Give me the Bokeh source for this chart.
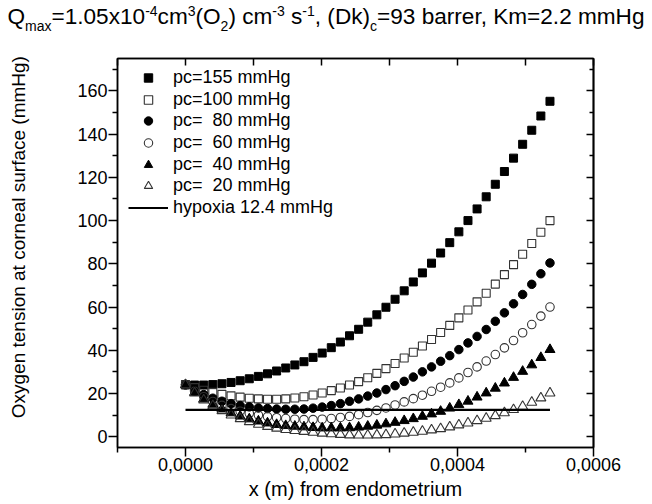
from bokeh.plotting import figure
from bokeh.models import (LinearAxis, Range1d, Legend, LegendItem, Div,
                          CustomJSTickFormatter, FixedTicker)
from bokeh.layouts import column
from bokeh.embed import file_html
from bokeh.resources import INLINE

# ---------------- data ----------------
x_step = 1.34e-5            # spacing of the computed points (m)
n_pts = 41
x_pos = [round(i * x_step, 9) for i in range(n_pts)]

pc_155 = [24.1, 23.9, 23.9, 24.1, 24.5, 25.1, 25.9, 26.8, 27.9, 29.1,
          30.4, 31.8, 33.2, 34.7, 36.7, 38.7, 41.2, 43.8, 46.7, 49.7,
          53.0, 56.4, 59.9, 63.6, 67.5, 71.6, 75.8, 80.3, 85.0, 89.8,
          94.8, 100.0, 105.4, 111.0, 116.8, 122.7, 128.9, 135.3, 141.8, 148.4,
          155.2]
pc_100 = [24.0, 22.7, 21.5, 20.5, 19.6, 18.9, 18.3, 17.8, 17.5, 17.3,
          17.3, 17.5, 17.9, 18.5, 19.3, 20.2, 21.3, 22.5, 23.9, 25.5,
          27.3, 29.3, 31.5, 33.9, 36.4, 39.1, 42.0, 45.0, 48.2, 51.5,
          55.0, 58.6, 62.4, 66.4, 70.6, 75.0, 79.6, 84.4, 89.4, 94.6,
          100.0]
pc_80 = [24.0, 21.5, 19.5, 17.8, 16.4, 15.3, 14.4, 13.8, 13.3, 13.0,
         12.8, 12.7, 12.7, 12.8, 13.2, 13.7, 14.4, 15.3, 16.4, 17.5,
         18.8, 20.2, 21.8, 23.6, 25.6, 27.6, 30.0, 32.3, 34.9, 37.5,
         40.3, 43.4, 46.4, 49.6, 53.4, 57.3, 61.5, 65.8, 70.5, 75.4,
         80.4]
pc_60 = [24.0, 21.0, 18.5, 16.3, 14.5, 13.0, 11.8, 10.8, 10.0, 9.3,
         8.8, 8.4, 8.1, 7.9, 7.9, 8.1, 8.4, 8.9, 9.4, 10.2,
         11.2, 12.2, 13.3, 14.7, 16.1, 17.6, 19.2, 21.0, 22.9, 24.9,
         27.2, 29.7, 32.3, 35.0, 38.0, 41.1, 44.5, 48.1, 51.9, 55.8,
         60.0]
pc_40 = [24.0, 20.5, 17.5, 15.0, 12.8, 11.0, 9.5, 8.2, 7.2, 6.3,
         5.6, 5.1, 4.8, 4.5, 4.2, 4.0, 4.0, 4.0, 4.1, 4.4,
         4.8, 5.3, 5.9, 6.6, 7.4, 8.3, 9.4, 10.5, 11.7, 13.2,
         14.8, 16.4, 18.3, 20.2, 22.4, 24.8, 27.4, 30.2, 33.2, 36.6,
         40.3]
pc_20 = [24.0, 20.2, 17.0, 14.3, 12.0, 10.0, 8.3, 6.9, 5.7, 4.7,
         3.9, 3.3, 2.8, 2.4, 2.0, 1.6, 1.3, 1.0, 0.8, 0.7,
         0.7, 0.8, 0.9, 1.2, 1.6, 2.0, 2.5, 3.1, 3.7, 4.5,
         5.4, 6.3, 7.4, 8.5, 9.7, 11.0, 12.5, 14.0, 15.9, 17.9,
         20.2]

hypoxia_level = 12.4
hypoxia_x = [0.0, 0.000536]

series_labels = ["pc=155 mmHg", "pc=100 mmHg", "pc=  80 mmHg",
                 "pc=  60 mmHg", "pc=  40 mmHg", "pc=  20 mmHg"]
hypoxia_label = "hypoxia 12.4 mmHg"

x_ticks = [0.0, 0.0002, 0.0004, 0.0006]
x_minor = [-0.0001, 0.0001, 0.0003, 0.0005]
y_ticks = [0, 20, 40, 60, 80, 100, 120, 140, 160]
y_minor = [10, 30, 50, 70, 90, 110, 130, 150, 170]

FONT = "Liberation Sans"

# ---------------- title ----------------
sub = 'style="font-size:0.62em;vertical-align:-0.5em;line-height:0"'
sup = 'style="font-size:0.62em;vertical-align:0.6em;line-height:0"'
title_html = (
    f'<div style="font-family:\'{FONT}\',Arial,sans-serif;font-size:22.6px;'
    f'white-space:nowrap;text-align:center;width:652px;color:#000;line-height:26px;">'
    f'Q<span {sub}>max</span>=1.05x10<span {sup}>-4</span>cm<span {sup}>3</span>'
    f'(O<span {sub}>2</span>) cm<span {sup}>-3</span> s<span {sup}>-1</span>, '
    f'(Dk)<span {sub}>c</span>=93 barrer, Km=2.2 mmHg</div>'
)
title_div = Div(text=title_html, width=652, height=40,
                styles={"margin": "0", "padding-top": "4px"})

# ---------------- figure ----------------
FIG_H = 464
BORDER_TOP = 18
BORDER_BOTTOM = 57
p = figure(width=652, height=FIG_H,
           x_range=Range1d(-0.0001, 0.0006), y_range=Range1d(-5, 175),
           output_backend="svg", toolbar_location=None,
           min_border_left=117, min_border_right=59,
           min_border_top=BORDER_TOP, min_border_bottom=BORDER_BOTTOM)
p.grid.visible = False
p.outline_line_color = "black"
p.outline_line_width = 1.5
p.background_fill_color = "white"
p.border_fill_color = "white"

fmt = CustomJSTickFormatter(code="return tick.toFixed(4).replace('.', ',');")

xa = p.xaxis[0]
xa.ticker = FixedTicker(ticks=x_ticks, minor_ticks=x_minor)
xa.formatter = fmt
xa.axis_label = "x (m) from endometrium"
ya = p.yaxis[0]
ya.ticker = FixedTicker(ticks=y_ticks, minor_ticks=y_minor)
# leading non-breaking spaces lift the label slightly above the frame centre, as in the original
ya.axis_label = "\u00a0" * 6 + "Oxygen tension at corneal surface (mmHg)"

for ax in (xa, ya):
    ax.axis_line_width = 1.5
    ax.major_tick_line_width = 1.5
    ax.minor_tick_line_width = 1.5
    ax.major_tick_out = 9
    ax.major_tick_in = 0
    ax.minor_tick_out = 5
    ax.minor_tick_in = 0
    ax.major_label_text_font = FONT
    ax.major_label_text_font_size = "18px"
    ax.major_label_text_color = "black"
    ax.axis_label_text_font = FONT
    ax.axis_label_text_font_style = "normal"
    ax.axis_label_text_color = "black"
xa.axis_label_text_font_size = "20px"
ya.axis_label_text_font_size = "19px"
xa.major_label_standoff = 1
xa.axis_label_standoff = 4
ya.major_label_standoff = 1
ya.axis_label_standoff = 45

# mirrored axes (top / right) with inward ticks only (no labels)
top = LinearAxis(ticker=FixedTicker(ticks=[], minor_ticks=sorted(x_ticks + x_minor)))
right_major = LinearAxis(ticker=FixedTicker(ticks=[], minor_ticks=y_ticks))
right_minor = LinearAxis(ticker=FixedTicker(ticks=[], minor_ticks=y_minor))
for ax in (top, right_major, right_minor):
    ax.axis_line_width = 1.5
    ax.major_tick_line_width = 1.5
    ax.minor_tick_line_width = 1.5
    ax.major_tick_in = 0
    ax.major_tick_out = 0
    ax.minor_tick_in = 7
    ax.minor_tick_out = 0
right_minor.minor_tick_in = 4
p.add_layout(top, "above")
p.add_layout(right_major, "right")
p.add_layout(right_minor, "right")

# ---------------- series ----------------
r155 = p.scatter(x_pos, pc_155, marker="square", size=8,
                 fill_color="black", line_color="black")
r100 = p.scatter(x_pos, pc_100, marker="square", size=8,
                 fill_color="white", fill_alpha=0, line_color="#333333", line_width=1.1)
r80 = p.scatter(x_pos, pc_80, marker="circle", size=8.5,
                fill_color="black", line_color="black")
r60 = p.scatter(x_pos, pc_60, marker="circle", size=8.5,
                fill_color="white", fill_alpha=0, line_color="#333333", line_width=1.1)
r40 = p.scatter(x_pos, pc_40, marker="triangle", size=10,
                fill_color="black", line_color="black")
r20 = p.scatter(x_pos, pc_20, marker="triangle", size=10,
                fill_color="white", fill_alpha=0, line_color="#333333", line_width=1.1)
rhyp = p.line(hypoxia_x, [hypoxia_level, hypoxia_level],
              line_color="black", line_width=2.2)

# ---------------- legend (one row per entry, placed in frame pixels) ----------------
frame_h = FIG_H - BORDER_TOP - BORDER_BOTTOM
row_pitch = 21.6
first_center = 19.7        # px below the frame top
row_h = 21
all_labels = series_labels + [hypoxia_label]
all_renderers = [r155, r100, r80, r60, r40, r20, rhyp]
for i, (lab, r) in enumerate(zip(all_labels, all_renderers)):
    center = first_center + row_pitch * i
    y_bottom = frame_h - (center + row_h / 2)
    lg = Legend(items=[LegendItem(label=lab, renderers=[r])],
                location=(11, round(y_bottom)),
                margin=0, padding=0, spacing=0,
                glyph_width=40, glyph_height=row_h, label_height=row_h,
                label_standoff=5,
                label_text_font=FONT, label_text_font_size="18px",
                label_text_color="black",
                border_line_alpha=0, background_fill_alpha=0)
    p.add_layout(lg)

layout = column(title_div, p)
open("out.html", "w").write(file_html(layout, INLINE))
